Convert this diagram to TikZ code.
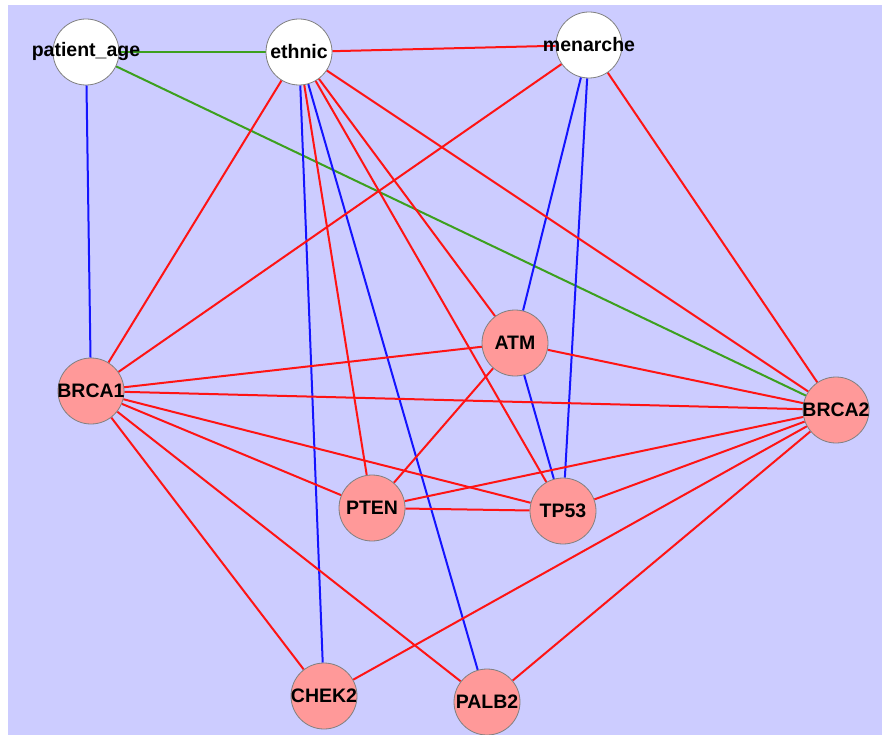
\documentclass[tikz,border=0pt]{standalone}
\usepackage{fontspec}
\setmainfont{Liberation Sans}
\usetikzlibrary{backgrounds}
\definecolor{bgpurple}{RGB}{204,204,255}
\definecolor{genefill}{RGB}{255,153,153}
\definecolor{edgered}{RGB}{255,20,20}
\definecolor{edgeblue}{RGB}{20,20,255}
\definecolor{edgegreen}{RGB}{60,160,30}
\definecolor{nodeborder}{RGB}{128,128,128}
\tikzset{
  netnode/.style={circle, draw=nodeborder, line width=0.8pt, minimum size=66pt, inner sep=0pt},
  varnode/.style={netnode, fill=white},
  genenode/.style={netnode, fill=genefill},
  lbl/.style={font=\fontsize{19.5}{22}\selectfont\bfseries, text=black, inner sep=0pt},
  redge/.style={draw=edgered, line width=2pt},
  bedge/.style={draw=edgeblue, line width=2pt},
  gedge/.style={draw=edgegreen, line width=2pt}
}
\begin{document}
\begin{tikzpicture}[x=1pt,y=-1pt]
\useasboundingbox (0,0) rectangle (882,735);
% nodes
\node[varnode, label={[lbl]center:patient\_age}] (pa) at (86,52) {};
\node[varnode, label={[lbl]center:ethnic}] (eth) at (299,52) {};
\node[varnode, label={[lbl]center:menarche}] (men) at (589,45) {};
\node[genenode, label={[lbl]center:ATM}] (atm) at (515,343) {};
\node[genenode, label={[lbl]center:BRCA1}] (brca1) at (91,391) {};
\node[genenode, label={[lbl]center:BRCA2}] (brca2) at (836,410) {};
\node[genenode, label={[lbl]center:PTEN}] (pten) at (372,508) {};
\node[genenode, label={[lbl]center:TP53}] (tp53) at (563,511) {};
\node[genenode, label={[lbl]center:CHEK2}] (chek2) at (324,696) {};
\node[genenode, label={[lbl]center:PALB2}] (palb2) at (487,702) {};
\begin{scope}[on background layer]
\fill[bgpurple] (8,5) rectangle (882,735);
% green
\draw[gedge] (pa) -- (eth);
\draw[gedge] (pa) -- (brca2);
% blue
\draw[bedge] (pa) -- (brca1);
\draw[bedge] (eth) -- (chek2);
\draw[bedge] (eth) -- (palb2);
\draw[bedge] (men) -- (atm);
\draw[bedge] (men) -- (tp53);
\draw[bedge] (atm) -- (tp53);
% red
\draw[redge] (eth) -- (men);
\draw[redge] (eth) -- (brca1);
\draw[redge] (eth) -- (pten);
\draw[redge] (eth) -- (tp53);
\draw[redge] (eth) -- (atm);
\draw[redge] (eth) -- (brca2);
\draw[redge] (men) -- (brca1);
\draw[redge] (men) -- (brca2);
\draw[redge] (brca1) -- (atm);
\draw[redge] (brca1) -- (brca2);
\draw[redge] (brca1) -- (pten);
\draw[redge] (brca1) -- (tp53);
\draw[redge] (brca1) -- (chek2);
\draw[redge] (brca1) -- (palb2);
\draw[redge] (atm) -- (brca2);
\draw[redge] (atm) -- (pten);
\draw[redge] (pten) -- (tp53);
\draw[redge] (pten) -- (brca2);
\draw[redge] (tp53) -- (brca2);
\draw[redge] (brca2) -- (chek2);
\draw[redge] (brca2) -- (palb2);
\end{scope}
\end{tikzpicture}
\end{document}
